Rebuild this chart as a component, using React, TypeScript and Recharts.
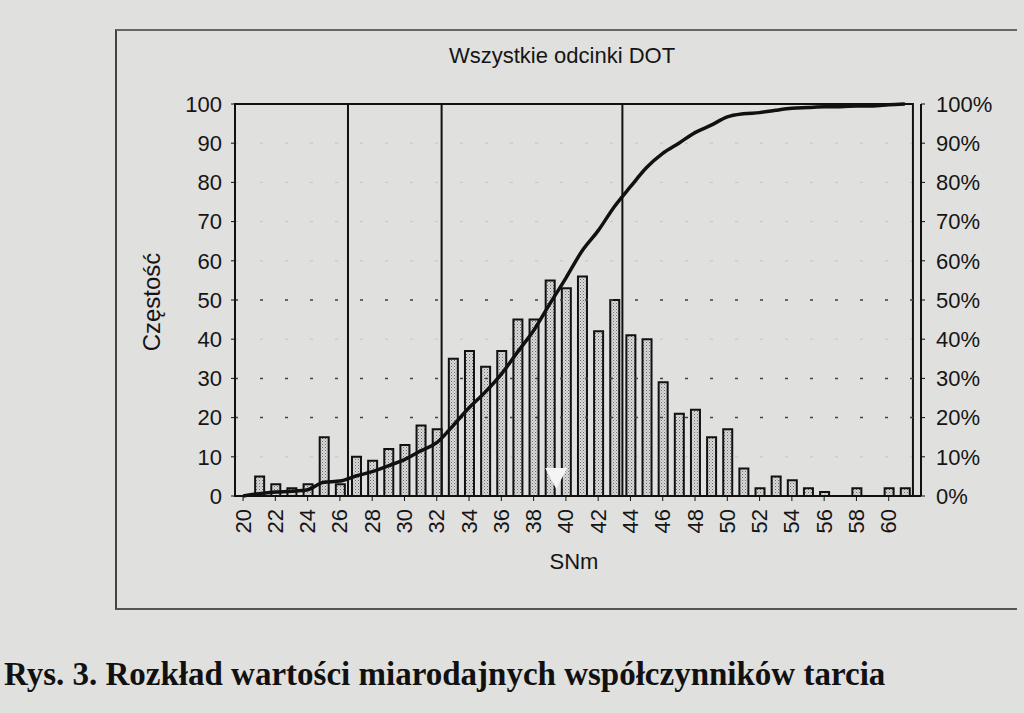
import React from "react";
import {
  ComposedChart,
  Bar,
  Line,
  XAxis,
  YAxis,
  CartesianGrid,
  ReferenceLine,
  ReferenceArea,
  ReferenceDot,
} from "recharts";

// SNm classes (one bar per integer value)
const SNM = [
  20, 21, 22, 23, 24, 25, 26, 27, 28, 29, 30, 31, 32, 33, 34, 35, 36, 37, 38, 39, 40,
  41, 42, 43, 44, 45, 46, 47, 48, 49, 50, 51, 52, 53, 54, 55, 56, 57, 58, 59, 60, 61,
];
// frequency (left axis)
const COUNTS = [
  0, 5, 3, 2, 3, 15, 3, 10, 9, 12, 13, 18, 17, 35, 37, 33, 37, 45, 45, 55, 53, 56, 42,
  50, 41, 40, 29, 21, 22, 15, 17, 7, 2, 5, 4, 2, 1, 0, 2, 0, 2, 2,
];
// cumulative share in % (right axis)
const CUMULATIVE = [
  0, 0.6, 1.0, 1.2, 1.6, 3.5, 3.8, 5.1, 6.2, 7.7, 9.3, 11.5, 13.6, 17.9, 22.5, 26.5,
  31.1, 36.7, 42.2, 49.0, 55.6, 62.5, 67.7, 73.8, 78.9, 83.8, 87.4, 90.0, 92.7, 94.6,
  96.7, 97.5, 97.8, 98.4, 98.9, 99.1, 99.3, 99.3, 99.5, 99.5, 99.8, 100,
];
const X_TICKS = [20, 22, 24, 26, 28, 30, 32, 34, 36, 38, 40, 42, 44, 46, 48, 50, 52, 54, 56, 58, 60];
const LEFT_TICKS = [0, 10, 20, 30, 40, 50, 60, 70, 80, 90, 100];
const RIGHT_TICKS = [0, 10, 20, 30, 40, 50, 60, 70, 80, 90, 100];
// vertical class boundaries drawn across the plot
const BOUNDARIES = [26.5, 32.3, 43.5];
// dotted horizontal lines that show clearly on the scan
const GRID_LEVELS = [20, 30, 50];
// white triangle under the bars
const MEAN_MARKER = { x: 39.4, y: 4.6 };

const data = SNM.map((snm, i) => ({ snm, count: COUNTS[i], cum: CUMULATIVE[i] }));

const FONT = "'Liberation Sans', Arial, sans-serif";
const tickStyle = { fill: "#151515", fontSize: 22, fontFamily: FONT };

const XTick = (props: any) => {
  const { x, y, payload } = props;
  const ty = y + 6;
  return (
    <text
      x={x}
      y={ty}
      transform={`rotate(-90 ${x} ${ty})`}
      textAnchor="end"
      dominantBaseline="central"
      {...tickStyle}
    >
      {payload.value}
    </text>
  );
};

const Triangle = (props: any) => {
  const { cx, cy } = props;
  return (
    <polygon
      points={`${cx - 11},${cy - 10} ${cx + 11},${cy - 10} ${cx},${cy + 11}`}
      fill="#f4f4f4"
    />
  );
};

export default function App() {
  return (
    <div
      style={{
        position: "absolute",
        left: 0,
        top: 0,
        width: 1024,
        height: 713,
        background: "#e0e0de",
        overflow: "hidden",
        fontFamily: FONT,
      }}
    >
      <div
        style={{
          position: "absolute",
          left: 115,
          top: 29,
          width: 900,
          height: 577,
          borderTop: "2px solid #666",
          borderLeft: "2px solid #444",
          borderBottom: "2px solid #555",
        }}
      />
      <div
        style={{
          position: "absolute",
          left: 362,
          top: 43,
          width: 400,
          textAlign: "center",
          fontSize: 22,
          color: "#151515",
        }}
      >
        Wszystkie odcinki DOT
      </div>
      <div
        style={{
          position: "absolute",
          left: 152,
          top: 302,
          transform: "translate(-50%, -50%) rotate(-90deg)",
          fontSize: 24,
          color: "#151515",
          whiteSpace: "nowrap",
        }}
      >
        Częstość
      </div>
      <div
        style={{
          position: "absolute",
          left: 574,
          top: 562,
          transform: "translate(-50%, -50%)",
          fontSize: 22,
          color: "#151515",
        }}
      >
        SNm
      </div>
      <div
        style={{
          position: "absolute",
          left: 4,
          top: 656,
          fontFamily: "'Liberation Serif', 'Times New Roman', serif",
          fontWeight: "bold",
          fontSize: 33,
          color: "#111",
          whiteSpace: "nowrap",
        }}
      >
        Rys. 3. Rozkład wartości miarodajnych współczynników tarcia
      </div>

      <div style={{ position: "absolute", left: 115, top: 30 }}>
        <ComposedChart
          width={896}
          height={575}
          data={data}
          margin={{ top: 74, right: 20, bottom: 49, left: 40 }}
        >
          <defs>
            <pattern id="dots" width="3" height="3" patternUnits="userSpaceOnUse">
              <rect width="3" height="3" fill="#dadada" />
              <rect width="1" height="1" fill="#6a6a6a" />
              <rect x="1.5" y="1.5" width="1" height="1" fill="#8a8a8a" />
            </pattern>
          </defs>
          <CartesianGrid
            yAxisId="left"
            vertical={false}
            stroke="#c4c4c4"
            strokeDasharray="3 22"
          />
          <XAxis
            dataKey="snm"
            type="number"
            domain={[19.5, 61.5]}
            ticks={X_TICKS}
            interval={0}
            tick={<XTick />}
            tickSize={5}
            tickMargin={2}
            axisLine={{ stroke: "#111", strokeWidth: 2 }}
            tickLine={{ stroke: "#111" }}
            height={60}
            allowDecimals={false}
          />
          <YAxis
            yAxisId="left"
            domain={[0, 100]}
            ticks={LEFT_TICKS}
            width={80}
            tick={tickStyle}
            tickSize={4}
            tickMargin={9}
            axisLine={{ stroke: "#111", strokeWidth: 2 }}
            tickLine={{ stroke: "#111" }}
          />
          <YAxis
            yAxisId="right"
            orientation="right"
            domain={[0, 100]}
            ticks={RIGHT_TICKS}
            tickFormatter={(v) => `${v}%`}
            width={70}
            tick={{ ...tickStyle, textAnchor: "start" }}
            tickSize={4}
            tickMargin={11}
            axisLine={{ stroke: "#111", strokeWidth: 2 }}
            tickLine={{ stroke: "#111" }}
          />
          {GRID_LEVELS.map((v) => (
            <ReferenceLine
              key={v}
              yAxisId="left"
              y={v}
              stroke="#444"
              strokeDasharray="3 22"
              strokeWidth={1.5}
            />
          ))}
          <ReferenceArea
            yAxisId="left"
            x1={19.5}
            x2={61.5}
            y1={0}
            y2={100}
            fill="none"
            fillOpacity={0}
            stroke="#111"
            strokeWidth={2}
          />
          {BOUNDARIES.map((b) => (
            <ReferenceLine key={b} yAxisId="left" x={b} stroke="#111" strokeWidth={2} />
          ))}
          <Bar
            yAxisId="left"
            dataKey="count"
            barSize={9}
            fill="url(#dots)"
            stroke="#111"
            strokeWidth={2}
            isAnimationActive={false}
          />
          <ReferenceDot
            yAxisId="left"
            x={MEAN_MARKER.x}
            y={MEAN_MARKER.y}
            r={10}
            shape={<Triangle />}
          />
          <Line
            yAxisId="right"
            dataKey="cum"
            type="monotone"
            stroke="#111"
            strokeWidth={3.5}
            dot={false}
            isAnimationActive={false}
          />
        </ComposedChart>
      </div>
    </div>
  );
}
